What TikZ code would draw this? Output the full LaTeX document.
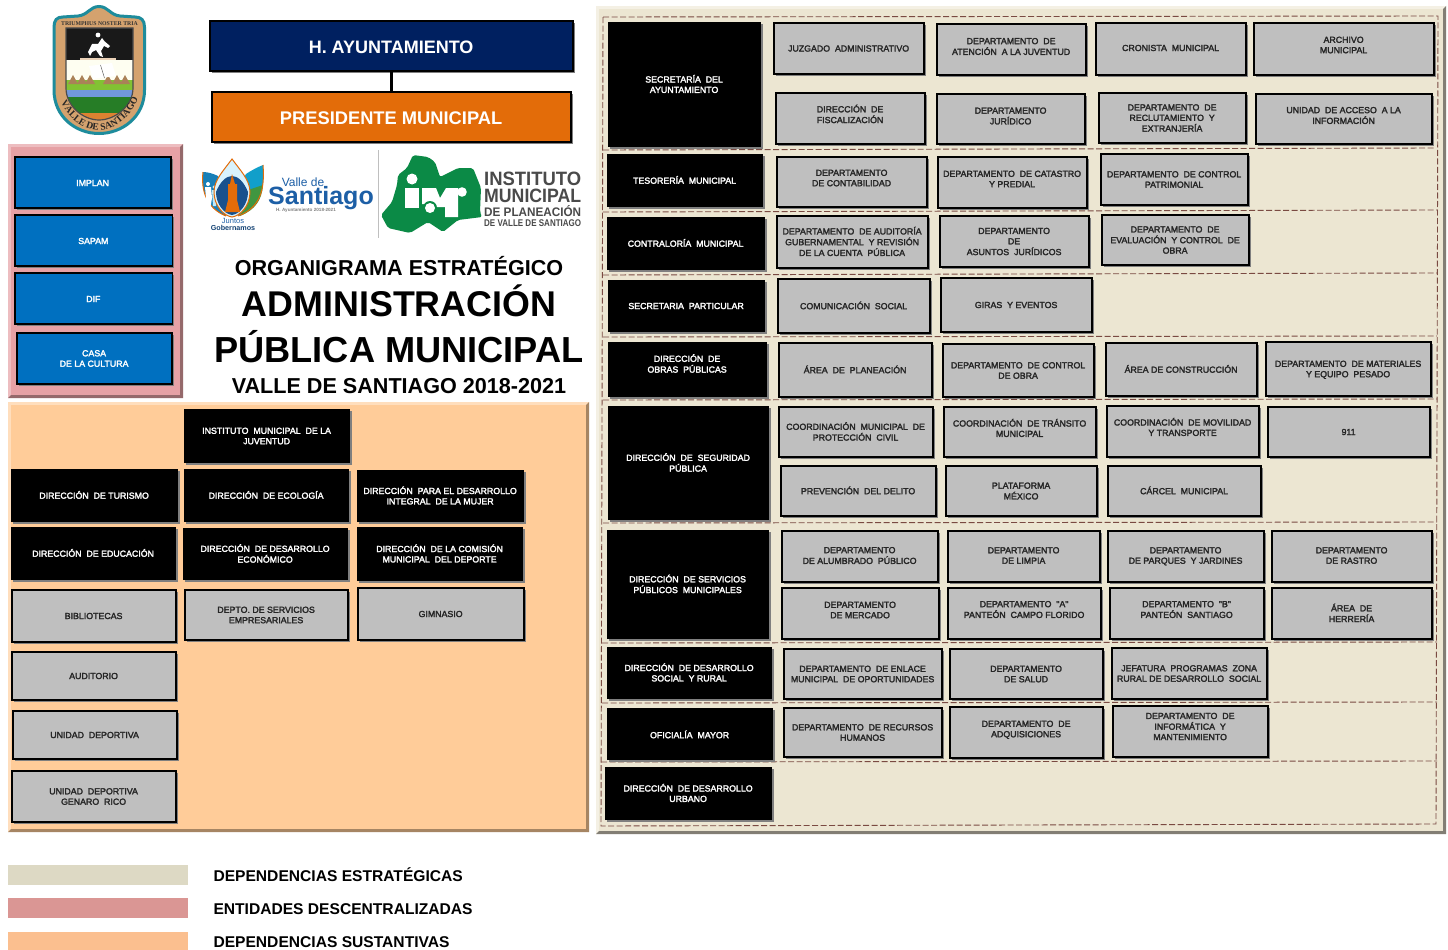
\documentclass[tikz,border=0pt]{standalone}
\usepackage{fontspec}
\usepackage{graphicx}
\setmainfont{Liberation Sans}
\newfontfamily\bxfont[FakeBold=2.5]{Liberation Sans}
\newfontfamily\serfont{Liberation Serif}
\usetikzlibrary{shadows,decorations.text}
\definecolor{cnavy}{HTML}{002060}
\definecolor{corange}{HTML}{E36C09}
\definecolor{cblue}{HTML}{0070C0}
\definecolor{cgrey}{HTML}{BFBFBF}
\definecolor{cshadow}{HTML}{7F7F7F}
\definecolor{cpink}{HTML}{E6A1A5}
\definecolor{cpeach}{HTML}{FFCC99}
\definecolor{ccream}{HTML}{ECE6D2}
\definecolor{cdash}{HTML}{7A4A42}
\definecolor{cteal}{HTML}{1E8C9C}
\definecolor{ctan}{HTML}{D4A26E}
\definecolor{cgreen}{HTML}{0B8A46}
\definecolor{csant}{HTML}{1D5FA6}
\definecolor{cgtxt}{HTML}{4A4A4A}
\definecolor{clegA}{HTML}{DDD9C4}
\definecolor{clegB}{HTML}{DA9694}
\definecolor{clegC}{HTML}{FBBF8F}
\tikzset{
  x=1pt,y=-1pt,
  basebox/.style={inner sep=0pt,outer sep=0pt,font=\bxfont\fontsize{8.8}{10.4}\selectfont,
     drop shadow={shadow xshift=1.8pt,shadow yshift=-1.8pt,fill=cshadow,opacity=1}},
  blackbox/.style={basebox,fill=black,text=white},
  greybox/.style={basebox,fill=cgrey,draw=black,line width=1.8pt,text=black!85},
  bluebox/.style={basebox,fill=cblue,draw=black,line width=1.8pt,text=white},
  navybox/.style={basebox,fill=cnavy,draw=black,line width=1.8pt,text=white,font=\bfseries\fontsize{18}{20}\selectfont},
  orangebox/.style={basebox,fill=corange,draw=black,line width=1.8pt,text=white,font=\bfseries\fontsize{18.3}{20}\selectfont},
  titletext/.style={inner sep=0pt,outer sep=0pt,text=black,font=\bfseries,anchor=base},
  legendtext/.style={inner sep=0pt,outer sep=0pt,text=black,anchor=base west,font=\bfseries\fontsize{15.6}{18}\selectfont},
  legendswatch/.style={inner sep=0pt,outer sep=0pt},
  dashline/.style={draw=cdash,line width=0.9pt,dash pattern=on 6pt off 2.5pt},
}
\newcommand\bx[8][0]{%
  \node[#3,minimum width={(#6-#4)*1pt},minimum height={(#7-#5)*1pt}] (#2) at ({(#4+#6)/2},{(#5+#7)/2})
   {\hspace*{-0.8pt}\raisebox{\dimexpr-3.2pt-#1pt\relax}[0pt][0pt]{\begin{tabular}[c]{@{}c@{}}#8\end{tabular}}};}
\newcommand\panel[7]{%
  \fill[#6] (#1,#2) rectangle (#3,#4);
  \fill[#7] (#3,#2) -- (#3,#4) -- (#1,#4) -- ({#1+3},{#4-3}) -- ({#3-3},{#4-3}) -- ({#3-3},{#2+3}) -- cycle;
  \fill[#5] ({#1+3},{#2+3}) rectangle ({#3-3},{#4-3});}
\begin{document}
\begin{tikzpicture}
\useasboundingbox (0,0) rectangle (1448,950);
\fill[white] (0,0) rectangle (1448,950);
% panels
\panel{8}{144}{183}{398}{cpink}{cpink!70!white}{cpink!65!black}
\panel{8}{402}{589}{832}{cpeach}{cpeach!65!white}{cpeach!65!black}
\panel{596}{6}{1446}{834}{ccream}{ccream!60!white}{ccream!55!black}
% dashed frame
\draw[dashline] (603,17) -- (1438,16) -- (1436,824) -- (601,826) -- cycle;
\draw[dashline] (603,150) -- (1435,148);
\draw[dashline] (603,212) -- (1437,210);
\draw[dashline] (603,275) -- (1437,273);
\draw[dashline] (603,337) -- (1437,336);
\draw[dashline] (603,400) -- (1437,399);
\draw[dashline] (603,523) -- (1437,522);
\draw[dashline] (602,643) -- (1437,642);
\draw[dashline] (602,703) -- (1437,702);
\draw[dashline] (601,762) -- (1437,761);
% top boxes
\bx[5]{ayto}{navybox}{210}{21}{573}{71}{H. AYUNTAMIENTO}
\bx[5]{pres}{orangebox}{212}{92}{571}{142}{PRESIDENTE MUNICIPAL}
\draw[line width=2.2pt] (ayto) -- (pres);
% shield
\draw[cteal,fill=ctan,line width=3pt] (54,27) .. controls (54,20) and (57,17) .. (63,17) -- (78,16) .. controls (88,15) and (90,6.5) .. (99,6.5) .. controls (108,6.5) and (110,15) .. (120,16) -- (135,17) .. controls (141,17) and (144.5,20) .. (144.5,27) -- (144.5,90) .. controls (144.5,117) and (122,133.5) .. (99,133.5) .. controls (76,133.5) and (54,117) .. (54,90) -- cycle;
\begin{scope}
\clip (66,28) -- (133,28) -- (133,88) .. controls (133,106) and (115,120) .. (99,120) .. controls (83,120) and (66,106) .. (66,88) -- cycle;
\fill[black!90] (60,25) rectangle (140,60);
\fill[blue!6!yellow!6] (60,60) rectangle (140,80);
\fill[green!45!yellow!70!black!80] (60,80) rectangle (140,90);
\fill[cteal!60!blue!60!white] (60,90) rectangle (140,97);
\fill[green!40!black!85] (60,97) rectangle (140,125);
\fill[corange!60!ctan] (60,113) rectangle (140,125);
\foreach \mx in {73,82,90,108,117,125}{\fill[ctan!80!black] (\mx-5,84) -- (\mx,75) -- (\mx+5,84) -- cycle;}
\fill[white] (89,66) -- (112,63) -- (116,76) -- (93,79) -- cycle;
\draw[black!60,line width=0.5pt] (100.5,65) -- (104.5,78);
\fill[white] (88,52) -- (92,44) -- (98,44) -- (102,38) -- (105,42) -- (103,40) -- (110,46) -- (108,48) -- (104,46) -- (101,51) -- (103,57) -- (100,56) -- (96,50) -- (92,52) -- (90,56) -- cycle;
\fill[white] (98,35) circle (2.4);
\fill[ctan!50!white] (80,58) rectangle (116,60);
\end{scope}
\draw[black!70,line width=1.2pt] (66,28) -- (133,28) -- (133,88) .. controls (133,106) and (115,120) .. (99,120) .. controls (83,120) and (66,106) .. (66,88) -- cycle;
\node[inner sep=0pt,font=\serfont\bfseries\fontsize{5.8}{6}\selectfont,text=black!80] (shieldmotto) at (99.5,23.5) {TRIUMPHUS NOSTER TRIA};
\path[decorate,decoration={text along path,text align=center,text={|\serfont\bfseries\fontsize{9.6}{10}\selectfont\color{black!85}|VALLE DE SANTIAGO}}]
  (58,96) .. controls (66,118) and (84,130.5) .. (99,130.5) .. controls (114,130.5) and (132,118) .. (141,92);
% descentralized
\bx[0.5]{implan}{bluebox}{15}{157}{171}{208}{IMPLAN}
\bx[0.5]{sapam}{bluebox}{15}{215}{172.5}{266}{SAPAM}
\bx[0.5]{dif}{bluebox}{15}{273}{172.5}{324}{DIF}
\bx{casa}{bluebox}{17}{333}{172}{384}{CASA\\DE LA CULTURA}
% Santiago logo
\fill[csant!80!cyan] (203,172) .. controls (201,190) and (206,208) .. (226,216) -- (232,200) -- (218,176) .. controls (214,174) and (208,172) .. (203,172) -- cycle;
\draw[corange,line width=1pt] (203,172) .. controls (201,190) and (206,208) .. (226,216);
\fill[white] (208,184) circle (2);
\fill[white] (205,187) -- (211,187) -- (212,198) -- (210,210) -- (207,210) -- (206,198) -- cycle;
\fill[white!75!cyan] (214,187) circle (1.6);
\fill[white!75!cyan] (212,190) -- (216,190) -- (216,206) -- (213,206) -- cycle;
\fill[csant!60!cyan] (263,165) .. controls (265,190) and (260,208) .. (238,216) -- (232,200) -- (246,174) .. controls (252,170) and (258,167) .. (263,165) -- cycle;
\fill[green!45!black!75] (263,185) .. controls (262,200) and (255,210) .. (240,216) -- (248,190) -- cycle;
\draw[corange,line width=1pt] (263,165) .. controls (265,190) and (260,208) .. (238,216);
\draw[corange,line width=1pt,fill=white!85!cyan] (232,159) .. controls (224,170) and (214,180) .. (214,192) .. controls (214,206) and (224,216) .. (232,217) .. controls (240,216) and (250,206) .. (250,192) .. controls (250,180) and (240,170) .. (232,159) -- cycle;
\fill[csant!85!black] (216,192) .. controls (220,182) and (226,176) .. (232,176) .. controls (238,176) and (244,182) .. (248,192) .. controls (248,204) and (240,214) .. (232,215) .. controls (224,214) and (216,204) .. (216,192) -- cycle;
\fill[corange] (232,174) -- (235,184) -- (237,184) -- (237,200) -- (240,212) -- (225,212) -- (228,200) -- (228,184) -- (230,184) -- cycle;
\node[inner sep=0pt,text=csant,anchor=base,font=\fontsize{12}{12}\selectfont] (valle) at (303,186) {Valle de};
\node[inner sep=0pt,text=csant,anchor=base,font=\bfseries\fontsize{25}{25}\selectfont] (sant) at (321,204) {Santiago};
\node[inner sep=0pt,text=black!50,font=\bfseries\fontsize{4.6}{5}\selectfont] (hayto) at (306,210.5) {H. Ayuntamiento 2018-2021};
\node[inner sep=0pt,text=csant,font=\fontsize{7.5}{8}\selectfont] (juntos) at (233,221) {Juntos};
\node[inner sep=0pt,text=csant!70!black,font=\bfseries\fontsize{7.2}{8}\selectfont] (gober) at (233,228) {Gobernamos};
\draw[black!25,line width=0.8pt] (378,150) -- (378,238);
% IMPLAN logo
\fill[cgreen,rounded corners=2pt] (413,155) -- (428,157) -- (435,162) -- (440,177) -- (458,168) -- (473,168) -- (481,188) -- (480,212) -- (482,217) -- (458,220) -- (443,232) -- (428,222) -- (410,233) -- (388,228) -- (381,215) -- (392,202) -- (397,185) -- (398,175) -- (407,168) -- cycle;
\fill[white] (412,179) circle (5.5);
\fill[white] (462,192) circle (4.8);
\fill[white] (405,188) rectangle (419,208);
\fill[white] (422,188) -- (436,188) -- (440,198) -- (446,188) -- (458,188) -- (458,217) -- (445,217) -- (445,207) -- (435,207) -- (430,204) -- (422,204) -- cycle;
\fill[cgreen] (430,208) circle (7);
\fill[white] (430,208) circle (5);
\node[inner sep=0pt,text=cgtxt,anchor=west] (inst1) at (484,178.5) {\resizebox{97pt}{13.5pt}{\bfseries INSTITUTO}};
\node[inner sep=0pt,text=cgtxt,anchor=west] (inst2) at (484,196) {\resizebox{97pt}{13.5pt}{\bfseries MUNICIPAL}};
\node[inner sep=0pt,text=cgtxt,anchor=west] (inst3) at (484,211) {\resizebox{97pt}{11pt}{\bfseries DE PLANEACIÓN}};
\node[inner sep=0pt,text=cgtxt,anchor=west] (inst4) at (484,223) {\resizebox{97pt}{6.8pt}{\bfseries DE VALLE DE SANTIAGO}};
% titles
\node[titletext,font=\bfseries\fontsize{21.6}{24}\selectfont] (t1) at (399,275) {ORGANIGRAMA ESTRATÉGICO};
\node[titletext,font=\bfseries\fontsize{35.8}{38}\selectfont] (t2) at (399,316.5) {ADMINISTRACIÓN};
\node[titletext,font=\bfseries\fontsize{36.2}{38}\selectfont] (t3) at (399,362) {PÚBLICA MUNICIPAL};
\node[titletext,font=\bfseries\fontsize{21.6}{24}\selectfont] (t4) at (399,393.5) {VALLE DE SANTIAGO 2018-2021};
% peach panel
\bx{b1}{blackbox}{184}{409}{350}{463}{INSTITUTO~~MUNICIPAL~~DE LA\\JUVENTUD}
\bx{b2}{blackbox}{11}{469}{178}{522}{DIRECCIÓN~~DE TURISMO}
\bx{b3}{blackbox}{184}{469}{349}{522}{DIRECCIÓN~~DE ECOLOGÍA}
\bx{b4}{blackbox}{357}{470}{524}{522}{DIRECCIÓN~~PARA EL DESARROLLO\\INTEGRAL~~DE LA MUJER}
\bx{b5}{blackbox}{11}{527}{176}{580}{DIRECCIÓN~~DE EDUCACIÓN}
\bx{b6}{blackbox}{183}{528}{348}{580}{DIRECCIÓN~~DE DESARROLLO\\ECONÓMICO}
\bx{b7}{blackbox}{357}{527}{523}{581}{DIRECCIÓN~~DE LA COMISIÓN\\MUNICIPAL~~DEL DEPORTE}
\bx{g1}{greybox}{12}{590}{176}{642}{BIBLIOTECAS}
\bx{g2}{greybox}{185}{590}{348}{640}{DEPTO. DE SERVICIOS\\EMPRESARIALES}
\bx{g3}{greybox}{358}{588}{524}{640}{GIMNASIO}
\bx{g4}{greybox}{12}{652}{176}{700}{AUDITORIO}
\bx{g5}{greybox}{13}{711}{177}{759}{UNIDAD~~DEPORTIVA}
\bx{g6}{greybox}{12}{771}{176}{822}{UNIDAD~~DEPORTIVA\\GENARO~~RICO}
% right panel: row 1
\bx{s1}{blackbox}{608}{22}{761}{147}{SECRETARÍA~~DEL\\AYUNTAMIENTO}
\bx{r1}{greybox}{774}{23}{924}{74}{JUZGADO~~ADMINISTRATIVO}
\bx[-3]{r2}{greybox}{937}{24}{1086}{75}{DEPARTAMENTO~~DE\\ATENCIÓN~~A LA JUVENTUD}
\bx[-1]{r3}{greybox}{1096}{23}{1246}{75}{CRONISTA~~MUNICIPAL}
\bx[-4]{r4}{greybox}{1254}{23}{1434}{75}{ARCHIVO\\MUNICIPAL}
\bx[-4]{r5}{greybox}{776}{93}{925}{144}{DIRECCIÓN~~DE\\FISCALIZACIÓN}
\bx[-3]{r6}{greybox}{937}{94}{1085}{144}{DEPARTAMENTO\\JURÍDICO}
\bx{r7}{greybox}{1099}{93}{1246}{143}{DEPARTAMENTO~~DE\\RECLUTAMIENTO~~Y\\EXTRANJERÍA}
\bx[-3.5]{r8}{greybox}{1256}{94}{1432}{144}{UNIDAD~~DE ACCESO~~A LA\\INFORMACIÓN}
% tesoreria
\bx{s2}{blackbox}{607}{154}{763}{207}{TESORERÍA~~MUNICIPAL}
\bx[-4]{t1b}{greybox}{777}{157}{927}{207}{DEPARTAMENTO\\DE CONTABILIDAD}
\bx[-3.5]{t2b}{greybox}{938}{157}{1087}{208}{DEPARTAMENTO~~DE CATASTRO\\Y PREDIAL}
\bx{t3b}{greybox}{1101}{154}{1248}{205}{DEPARTAMENTO~~DE CONTROL\\PATRIMONIAL}
% contraloria
\bx{s3}{blackbox}{607}{217}{765}{270}{CONTRALORÍA~~MUNICIPAL}
\bx{c1}{greybox}{777}{216}{928}{268}{DEPARTAMENTO~~DE AUDITORÍA\\GUBERNAMENTAL~~Y REVISIÓN\\DE LA CUENTA~~PÚBLICA}
\bx{c2}{greybox}{940}{216}{1089}{267}{DEPARTAMENTO\\DE\\ASUNTOS~~JURÍDICOS}
\bx{c3}{greybox}{1102}{215}{1249}{265}{DEPARTAMENTO~~DE\\EVALUACIÓN~~Y CONTROL~~DE\\OBRA}
% particular
\bx{s4}{blackbox}{608}{280}{765}{332}{SECRETARIA~~PARTICULAR}
\bx{p1}{greybox}{778}{279}{930}{333}{COMUNICACIÓN~~SOCIAL}
\bx{p2}{greybox}{941}{278}{1092}{332}{GIRAS~~Y EVENTOS}
% obras
\bx[-5.5]{s5}{blackbox}{608}{342}{767}{397}{DIRECCIÓN~~DE\\OBRAS~~PÚBLICAS}
\bx{o1}{greybox}{779}{343}{932}{397}{ÁREA~~DE~~PLANEACIÓN}
\bx{o2}{greybox}{943}{344}{1094}{397}{DEPARTAMENTO~~DE CONTROL\\DE OBRA}
\bx{o3}{greybox}{1106}{343}{1257}{396}{ÁREA DE CONSTRUCCIÓN}
\bx{o4}{greybox}{1266}{342}{1431}{396}{DEPARTAMENTO~~DE MATERIALES\\Y EQUIPO~~PESADO}
% seguridad
\bx{s6}{blackbox}{608}{406}{769}{520}{DIRECCIÓN~~DE~~SEGURIDAD\\PÚBLICA}
\bx{q1}{greybox}{779}{407}{933}{457}{COORDINACIÓN~~MUNICIPAL~~DE\\PROTECCIÓN~~CIVIL}
\bx[-3.5]{q2}{greybox}{944}{407}{1096}{457}{COORDINACIÓN~~DE TRÁNSITO\\MUNICIPAL}
\bx[-4]{q3}{greybox}{1107}{406}{1259}{457}{COORDINACIÓN~~DE MOVILIDAD\\Y TRANSPORTE}
\bx{q4}{greybox}{1268}{407}{1430}{457}{911}
\bx{q5}{greybox}{781}{466}{936}{516}{PREVENCIÓN~~DEL DELITO}
\bx{q6}{greybox}{946}{466}{1097}{516}{PLATAFORMA\\MÉXICO}
\bx{q7}{greybox}{1108}{466}{1261}{516}{CÁRCEL~~MUNICIPAL}
% servicios
\bx{s7}{blackbox}{607}{530}{769}{639}{DIRECCIÓN~~DE SERVICIOS\\PÚBLICOS~~MUNICIPALES}
\bx[-1]{v1}{greybox}{782}{531}{938}{582}{DEPARTAMENTO\\DE ALUMBRADO~~PÚBLICO}
\bx[-1]{v2}{greybox}{948}{531}{1100}{582}{DEPARTAMENTO\\DE LIMPIA}
\bx[-1]{v3}{greybox}{1108}{531}{1264}{582}{DEPARTAMENTO\\DE PARQUES~~Y JARDINES}
\bx[-1]{v4}{greybox}{1272}{531}{1432}{582}{DEPARTAMENTO\\DE RASTRO}
\bx[-3.5]{v5}{greybox}{782}{588}{939}{639}{DEPARTAMENTO\\DE MERCADO}
\bx[-4]{v6}{greybox}{948}{588}{1101}{639}{DEPARTAMENTO~~"A"\\PANTEÓN~~CAMPO FLORIDO}
\bx[-4]{v7}{greybox}{1110}{588}{1264}{639}{DEPARTAMENTO~~"B"\\PANTEÓN~~SANTIAGO}
\bx{v8}{greybox}{1272}{588}{1432}{639}{ÁREA~~DE\\HERRERÍA}
% social
\bx{s8}{blackbox}{607}{647}{772}{699}{DIRECCIÓN~~DE DESARROLLO\\SOCIAL~~Y RURAL}
\bx{w1}{greybox}{784}{649}{942}{699}{DEPARTAMENTO~~DE ENLACE\\MUNICIPAL~~DE OPORTUNIDADES}
\bx{w2}{greybox}{950}{649}{1103}{699}{DEPARTAMENTO\\DE SALUD}
\bx{w3}{greybox}{1112}{648}{1267}{699}{JEFATURA~~PROGRAMAS~~ZONA\\RURAL DE DESARROLLO~~SOCIAL}
% oficialia
\bx[1]{s9}{blackbox}{607}{708}{773}{760}{OFICIALÍA~~MAYOR}
\bx{y1}{greybox}{784}{708}{942}{757}{DEPARTAMENTO~~DE RECURSOS\\HUMANOS}
\bx[-3.5]{y2}{greybox}{950}{707}{1103}{758}{DEPARTAMENTO~~DE\\ADQUISICIONES}
\bx[-5]{y3}{greybox}{1113}{706}{1268}{757}{DEPARTAMENTO~~DE\\INFORMÁTICA~~Y\\MANTENIMIENTO}
% urbano
\bx{s10}{blackbox}{605}{767}{772}{820}{DIRECCIÓN~~DE DESARROLLO\\URBANO}
% legend
\node[legendswatch,fill=clegA,minimum width=180pt,minimum height=20pt] (l1) at (98,875) {};
\node[legendswatch,fill=clegB,minimum width=180pt,minimum height=20pt] (l2) at (98,908) {};
\node[legendswatch,fill=clegC,minimum width=180pt,minimum height=18pt] (l3) at (98,941) {};
\node[legendtext] (lt1) at (213.5,881) {DEPENDENCIAS ESTRATÉGICAS};
\node[legendtext] (lt2) at (213.5,914) {ENTIDADES DESCENTRALIZADAS};
\node[legendtext] (lt3) at (213.5,947) {DEPENDENCIAS SUSTANTIVAS};
\end{tikzpicture}
\end{document}
